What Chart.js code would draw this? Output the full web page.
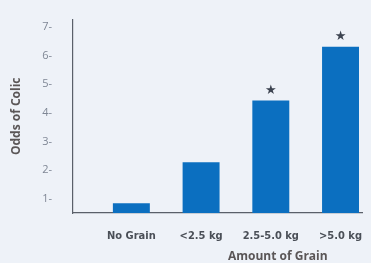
<!DOCTYPE html>
<html>
<head>
<meta charset="utf-8">
<script src="https://cdn.jsdelivr.net/npm/chart.js@4"></script>
<style>
    html, body { margin: 0; padding: 0; background: #eef2f8; overflow: hidden; }
    canvas { display: block; }
</style>
</head>
<body>
<canvas id="chart" width="371" height="263"></canvas>
<script>
'use strict';

const categories = ['No Grain', '<2.5 kg', '2.5-5.0 kg', '>5.0 kg'];
const oddsOfColic = [0.84, 2.27, 4.43, 6.3];
const significant = [false, false, true, true];
const yTickValues = [1, 2, 3, 4, 5, 6, 7];

const barColor = '#0b6fc0';
const axisColor = '#5a606a';
const textColor = '#5a5657';

// stars over the significant bars, and the x title
const extrasPlugin = {
    id: 'extras',
    afterDatasetsDraw(chart) {
        const ctx = chart.ctx;
        const meta = chart.getDatasetMeta(0);
        ctx.save();
        ctx.fillStyle = '#3c4350';
        ctx.font = '13px "DejaVu Sans"';
        ctx.textAlign = 'center';
        ctx.textBaseline = 'middle';
        meta.data.forEach((bar, i) => {
            if (significant[i]) {
                ctx.fillText('\u2605', bar.x, bar.y - 10);
            }
        });
        ctx.restore();
    },
    afterDraw(chart) {
        const ctx = chart.ctx;
        const x = chart.scales.x;
        ctx.save();
        ctx.fillStyle = textColor;
        ctx.font = 'bold 12px "Open Sans"';
        ctx.textAlign = 'center';
        ctx.textBaseline = 'middle';
        ctx.fillText('Amount of Grain', x.getPixelForValue(2.1), chart.height - 6);
        ctx.restore();
    }
};

new Chart(document.getElementById('chart'), {
    type: 'bar',
    data: {
        datasets: [
            {
                data: oddsOfColic.map((v, i) => ({ x: i, y: v })),
                backgroundColor: barColor,
                barPercentage: 0.53,
                categoryPercentage: 1
            }
        ]
    },
    options: {
        responsive: false,
        animation: false,
        layout: { padding: { top: 15, right: 0, bottom: 0, left: 0 } },
        scales: {
            x: {
                type: 'linear',
                offset: false,
                min: -0.837,
                max: 3.32,
                afterFit: (scale) => { scale.height = 50; },
                afterBuildTicks: (scale) => {
                    scale.ticks = categories.map((c, i) => ({ value: i }));
                },
                grid: { display: false },
                border: { display: true, color: axisColor, width: 1.2 },
                ticks: {
                    padding: 9,
                    autoSkip: false,
                    maxRotation: 0,
                    color: '#4a4f57',
                    font: { family: "'Liberation Sans Narrow', 'DejaVu Sans Condensed', sans-serif", size: 11, weight: 'bold' },
                    callback: (v) => categories[v]
                }
            },
            y: {
                min: 0.5,
                max: 7.25,
                afterFit: (scale) => { scale.width = 73; },
                afterBuildTicks: (scale) => {
                    scale.ticks = yTickValues.map(v => ({ value: v }));
                },
                grid: { display: false },
                border: { display: true, color: axisColor, width: 1.2 },
                ticks: {
                    padding: 13,
                    color: '#7f8795',
                    font: { family: "'Open Sans'", size: 11 },
                    callback: (v) => v + '-'
                },
                title: {
                    display: true,
                    text: 'Odds of Colic',
                    color: textColor,
                    padding: { top: 9, bottom: 0 },
                    font: { family: "'Open Sans'", size: 12, weight: 'bold' }
                }
            }
        },
        plugins: {
            legend: { display: false },
            tooltip: { enabled: false }
        }
    },
    plugins: [extrasPlugin]
});
</script>
</body>
</html>
